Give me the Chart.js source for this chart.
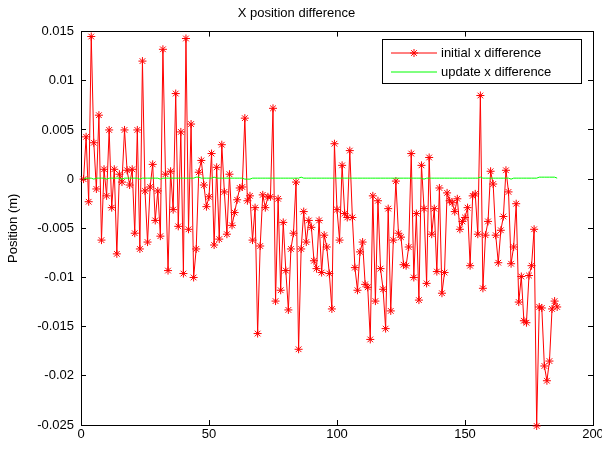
<!DOCTYPE html>
<html>
<head>
<meta charset="utf-8">
<script src="https://cdn.jsdelivr.net/npm/chart.js@4"></script>
<style>
html,body{margin:0;padding:0;background:#fff;}
</style>
</head>
<body>
<canvas id="c" width="602" height="454"></canvas>
<script>
const chartTitle = "X position difference";
const yAxisTitle = "Position (m)";
const seriesNames = ["initial x difference", "update x difference"];
const xTicks = [0, 50, 100, 150, 200];
const yTicks = [-0.025, -0.02, -0.015, -0.01, -0.005, 0, 0.005, 0.01, 0.015];

const initialXDiff = [
  0, 0.0043, -0.0023, 0.0145, 0.0037, -0.001, 0.0065, -0.0062, 0.001, -0.0017,
  0.005, -0.0029, 0.001, -0.0076, 0.0005, -0.0003, 0.005, 0.0009, -0.0006, 0.001,
  -0.0055, 0.005, -0.0071,
  0.012, -0.0012, -0.0064, -0.0008, 0.0015, -0.0042, -0.0012, -0.0058, 0.0132, 0.0005,
  -0.0093, 0.0008, -0.0031, 0.0087, -0.0048, 0.0048, -0.0096, 0.0143, -0.0051, 0.0056,
  -0.01, -0.0071, 0.0007, 0.0019, -0.0006,
  -0.0028, -0.0018, 0.0026, -0.0067, 0.0012, -0.0061, 0.0035, -0.0013, -0.0056, 0.0005,
  -0.0047, -0.0034, -0.0021, -0.0009, -0.0008, 0.0062, -0.0022, -0.0017, -0.0062, -0.0029,
  -0.0157, -0.0068, -0.0016, -0.0029,
  -0.0018, -0.0018, 0.0072, -0.0124, -0.002, -0.0113, -0.0044, -0.0093, -0.0133, -0.0071,
  -0.0055, -0.0003, -0.0173, -0.0071, -0.0033, -0.0064, -0.0042, -0.0049, -0.0083, -0.0091,
  -0.0042, -0.0095, -0.0057, -0.0069,
  -0.0096, -0.0132, 0.0036, -0.0031, -0.0062, 0.0014, -0.0035, -0.0039, 0.0029, -0.0039,
  -0.009, -0.0113, -0.0074, -0.0064, -0.0107, -0.011, -0.0163, -0.0017, -0.0124, -0.0022,
  -0.0091, -0.0112, -0.0152, -0.003,
  -0.0134, -0.0062, -0.0002, -0.0055, -0.0059, -0.0087, -0.0088, -0.0069, 0.0026, -0.01,
  -0.0035, -0.0123, 0.0014, -0.003, -0.0106, 0.0022, -0.0056, -0.003, -0.0094, -0.0009,
  -0.0116, -0.0095, -0.0014, -0.0022, -0.0024,
  -0.0033, -0.002, -0.0051, -0.0043, -0.0039, -0.0029, -0.0088, -0.0017, -0.0015, -0.0056,
  0.0085, -0.0111, -0.0057, -0.0043, 0.0008, -0.0005, -0.0057, -0.0085, -0.0052, -0.0038,
  0.0009, -0.0013, -0.0086, -0.0069,
  -0.0025, -0.0125, -0.0099, -0.0144, -0.0146, -0.0098, -0.0088, -0.0051, -0.0251, -0.013,
  -0.0131, -0.019, -0.0205, -0.0185, -0.0132, -0.0124, -0.013
];

const updateXDiff = [
  0.0000, 0.0001, 0.0001, 0.0001, 0.0000, 0.0001, 0.0001, 0.0001, 0.0001, 0.0000,
  0.0001, 0.0001, 0.0001, 0.0001, 0.0001, 0.0000, 0.0001, 0.0001, 0.0001, 0.0001,
  0.0001, 0.0001, 0.0000, 0.0001, 0.0001, 0.0001, 0.0001, 0.0001, 0.0001, 0.0001,
  0.0000, 0.0001, 0.0001, 0.0001, 0.0001, 0.0001, 0.0001, 0.0001, 0.0001, 0.0001,
  0.0001, 0.0001, 0.0001, 0.0001, 0.0002, 0.0002, 0.0001, 0.0001, 0.0001, 0.0001,
  0.0001, 0.0002, 0.0001, 0.0001, 0.0001, 0.0001, 0.0001, 0.0001, 0.0001, 0.0001,
  0.0001, 0.0001, 0.0001, 0.0000, 0.0000, 0.0000, 0.0001, 0.0001, 0.0001, 0.0001,
  0.0001, 0.0001, 0.0001, 0.0001, 0.0001, 0.0001, 0.0001, 0.0001, 0.0001, 0.0001,
  0.0001, 0.0001, 0.0001, 0.0001, 0.0001, 0.0002, 0.0001, 0.0001, 0.0001, 0.0001,
  0.0001, 0.0001, 0.0001, 0.0001, 0.0001, 0.0001, 0.0001, 0.0001, 0.0001, 0.0001,
  0.0001, 0.0001, 0.0001, 0.0001, 0.0001, 0.0001, 0.0001, 0.0001, 0.0001, 0.0001,
  0.0001, 0.0001, 0.0001, 0.0001, 0.0001, 0.0001, 0.0001, 0.0001, 0.0001, 0.0001,
  0.0001, 0.0001, 0.0001, 0.0001, 0.0001, 0.0001, 0.0001, 0.0001, 0.0001, 0.0001,
  0.0001, 0.0001, 0.0001, 0.0000, 0.0001, 0.0001, 0.0001, 0.0001, 0.0001, 0.0001,
  0.0001, 0.0001, 0.0001, 0.0001, 0.0001, 0.0001, 0.0001, 0.0001, 0.0001, 0.0001,
  0.0001, 0.0001, 0.0001, 0.0001, 0.0001, 0.0002, 0.0001, 0.0001, 0.0001, 0.0001,
  0.0001, 0.0001, 0.0001, 0.0001, 0.0001, 0.0001, 0.0001, 0.0000, 0.0001, 0.0001,
  0.0001, 0.0001, 0.0001, 0.0001, 0.0001, 0.0001, 0.0001, 0.0001, 0.0002, 0.0002,
  0.0002, 0.0002, 0.0002, 0.0002, 0.0002, 0.0001
];

const sampleIndex = initialXDiff.map((_, i) => i + 1);

const RED = '#ff0000';
const GREEN = '#00ff00';
const FONT = 'Helvetica, "Liberation Sans", Arial, sans-serif';

Chart.defaults.font.family = FONT;
Chart.defaults.font.size = 13;
Chart.defaults.color = '#000';

const inwardGrid = {display: true, drawOnChartArea: false, drawTicks: true, tickLength: -5, color: '#000', lineWidth: 1};
const blackBorder = {display: true, color: '#000', width: 1};

function legendBox(chart) {
  const ctx = chart.ctx;
  const bx = 382, by = 39, bw = 199, bh = 44;
  ctx.save();
  ctx.fillStyle = '#fff';
  ctx.fillRect(bx, by, bw, bh);
  ctx.strokeStyle = '#000';
  ctx.lineWidth = 1;
  ctx.strokeRect(bx + 0.5, by + 0.5, bw, bh);
  const rows = [52.5, 71.5];
  const cols = [RED, GREEN];
  rows.forEach((ry, i) => {
    ctx.strokeStyle = cols[i];
    ctx.lineWidth = 1;
    ctx.beginPath();
    ctx.moveTo(391, ry + 0.5); ctx.lineTo(437, ry + 0.5);
    ctx.stroke();
    if (i === 0) {
      ctx.beginPath();
      const cx = 414, cy = ry + 0.5, r = 4;
      ctx.moveTo(cx - r, cy); ctx.lineTo(cx + r, cy);
      ctx.moveTo(cx, cy - r); ctx.lineTo(cx, cy + r);
      const d = r * Math.SQRT1_2;
      ctx.moveTo(cx - d, cy - d); ctx.lineTo(cx + d, cy + d);
      ctx.moveTo(cx - d, cy + d); ctx.lineTo(cx + d, cy - d);
      ctx.stroke();
    }
    ctx.fillStyle = '#000';
    ctx.font = '13px ' + FONT;
    ctx.textBaseline = 'middle';
    ctx.textAlign = 'left';
    ctx.fillText(seriesNames[i], 441, ry + 1);
  });
  ctx.restore();
}

new Chart(document.getElementById('c'), {
  type: 'line',
  data: {
    datasets: [
      {
        label: seriesNames[1],
        data: sampleIndex.map((x, i) => ({x, y: updateXDiff[i]})),
        borderColor: GREEN,
        borderWidth: 1,
        pointRadius: 0,
        tension: 0,
        fill: false,
        clip: false
      },
      {
        label: seriesNames[0],
        data: sampleIndex.map((x, i) => ({x, y: initialXDiff[i]})),
        borderColor: RED,
        backgroundColor: RED,
        borderWidth: 1,
        pointStyle: 'star',
        pointRadius: 4,
        pointBorderWidth: 1,
        pointBorderColor: RED,
        tension: 0,
        fill: false,
        clip: false
      }
    ]
  },
  options: {
    responsive: false,
    animation: false,
    devicePixelRatio: 1,
    layout: {padding: {left: 0, right: 9, top: 0, bottom: 0}},
    plugins: {
      legend: {display: false},
      tooltip: {enabled: false},
      title: {
        display: true,
        text: chartTitle,
        color: '#000',
        font: {size: 13, weight: 'normal', family: FONT},
        padding: {top: 6, bottom: 10}
      }
    },
    scales: {
      x: {
        type: 'linear',
        position: 'bottom',
        min: 0, max: 200,
        grid: inwardGrid,
        border: blackBorder,
        afterBuildTicks: s => { s.ticks = xTicks.map(v => ({value: v})); },
        ticks: {padding: 7, maxRotation: 0, callback: v => String(v)},
        afterFit: s => { s.height = 29; s.paddingLeft = 0; s.paddingRight = 0; }
      },
      x2: {
        type: 'linear',
        position: 'top',
        min: 0, max: 200,
        grid: inwardGrid,
        border: blackBorder,
        afterBuildTicks: s => { s.ticks = xTicks.map(v => ({value: v})); },
        ticks: {display: false},
        afterFit: s => { s.height = 0; s.paddingLeft = 0; s.paddingRight = 0; }
      },
      y: {
        type: 'linear',
        position: 'left',
        min: -0.025, max: 0.015,
        grid: inwardGrid,
        border: blackBorder,
        afterBuildTicks: s => { s.ticks = yTicks.map(v => ({value: v})); },
        ticks: {padding: 12, callback: v => String(Number(v.toFixed(3)))},
        title: {display: true, text: yAxisTitle, color: '#000', font: {size: 13, family: FONT}, padding: {top: 6, bottom: 0}},
        afterFit: s => { s.width = 81; s.paddingTop = 0; s.paddingBottom = 0; }
      },
      y2: {
        type: 'linear',
        position: 'right',
        min: -0.025, max: 0.015,
        grid: inwardGrid,
        border: blackBorder,
        afterBuildTicks: s => { s.ticks = yTicks.map(v => ({value: v})); },
        ticks: {display: false},
        afterFit: s => { s.width = 0; s.paddingTop = 0; s.paddingBottom = 0; }
      }
    }
  },
  plugins: [{
    id: 'matlabLegend',
    afterDraw(chart) {
      legendBox(chart);
    }
  }]
});
</script>
</body>
</html>
